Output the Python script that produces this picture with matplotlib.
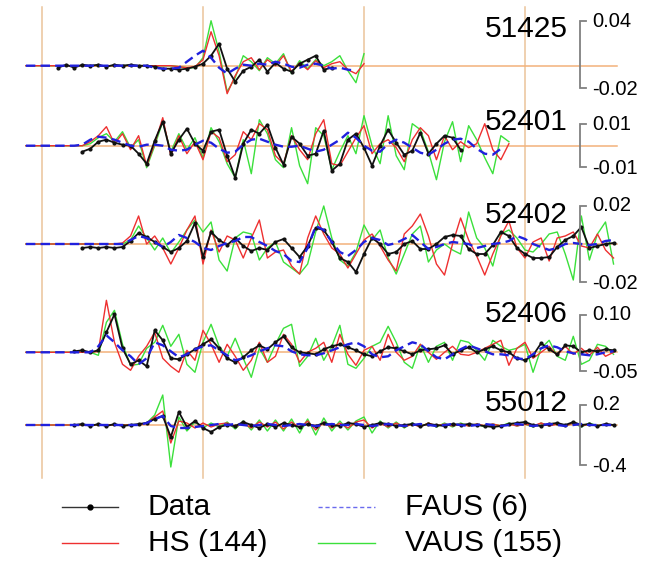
import numpy as np
import matplotlib
matplotlib.use("Agg")
import matplotlib.pyplot as plt

nan = np.nan

# ---------------------------------------------------------------------------
# Waveform data: raw counts sampled every DT seconds starting at T0.
# Multiply by the station sensitivity to get physical units.
# ---------------------------------------------------------------------------
T0 = -1.0
DT = 0.5

STATIONS = ["51425", "52401", "52402", "52406", "55012"]
SENSITIVITY = [9.0e-4, 4.69e-4, 5.22e-4, 2.68e-3, 1.0e-2]

SCALE_TOP = [0.04, 0.01, 0.02, 0.10, 0.2]
SCALE_BOTTOM = [-0.02, -0.01, -0.02, -0.05, -0.4]
SCALE_TOP_LABELS = ["0.04", "0.01", "0.02", "0.10", "0.2"]
SCALE_BOTTOM_LABELS = ["-0.02", "-0.01", "-0.02", "-0.05", "-0.4"]

TIME_GRID = [0, 10, 20, 30]
LEGEND_LABELS = ["Data", "HS (144)", "FAUS (6)", "VAUS (155)"]

# station 51425
DATA_51425 = [nan] * 4 + [-2, 1, -2, 1, 0, 1, -1, 1, 0, 1, 0, 0, -1, -3, -3, -4, -3, -1, 2, 10,
                          22, -3, -16, -5, -1, 6, -6, 3, -3, -6, 2, 6, 10, -4, -2]
HS_51425 = [0] * 19 + [-1, -2, -1, 6, 34, 10, -28, -10, 4, 8, -4, 6, 0, 10, -6, 3, -4, 5, -2, 2,
                       4, -4, -8, 2]
FAUS_51425 = [0] * 16 + [-2, -3, -3, -2, 4, 10, 15, 8, -2, -8, -3, 1, 0, 2, 1, 4, 2, -1, -2, 1,
                         2, 0, -3, -2, -4, -5]
VAUS_51425 = [0] * 19 + [-1, -2, -2, 8, 45, 14, -26, -12, 10, 4, -5, 8, 2, 12, -8, 5, -3, 6, 0, 4,
                         10, -5, -17, 12]

# station 52401
DATA_52401 = [nan] * 7 + [-6, -3, 4, 6, 3, 1, 0, -8, -18, 5, 24, -8, 6, 17, 2, -5, 14, 16, -10, -32,
                          2, 16, 12, 21, -2, -19, 9, 2, -10, -8, 15, -25, -18, 6, 12, -2, -20, 0, 16, 3,
                          -9, -5, 13, -8, 2, 10, 8, -4]
HS_52401 = [0] * 8 + [4, 10, 19, 2, 12, -4, 10, -20, 2, 28, -10, 10, -8, 4, -14, 14, 8, -16, -9, 14,
                      6, 22, 16, -10, -18, 10, -4, -14, 12, 26, -18, -20, -6, 8, 20, -8, 2, 6, -2, -16,
                      6, 18, 10, -14, 10, -4, 4, -2, 2, 22, -4, -14, 2]
FAUS_52401 = [0] * 7 + [1, 6, 9, 8, 6, 3, 0, -1, 1, 1, 0, -4, -5, -4, 1, 5, 3, -3, -7, -6,
                        1, 6, 7, 4, 1, -1, -1, 0, -3, -6, -4, 1, 6, 13, 8, 0, -5, -6, 2, 6,
                        3, -2, -7, -9, -4, 2, 6, 7, 4, -3, -8, -9, -3]
VAUS_52401 = [0] * 8 + [2, 8, 12, 4, 14, -2, 6, -22, 0, 24, -6, 12, -4, 8, -12, 18, 4, -18, -32, 6,
                        -28, 26, 12, -14, -22, 18, -20, -38, 18, 10, -24, -6, 10, -8, 30, 0, -18, 30, -10, -24,
                        22, 16, -6, -34, 4, 24, -16, 20, 6, -12, -28, 10, 4]

# station 52402
DATA_52402 = [nan] * 7 + [-4, -3, -4, -3, -4, -3, 3, 11, 7, 2, -3, -8, -4, 3, 21, -13, 12, 4, -1, 6,
                          -2, -7, -4, -6, 2, 5, -4, -13, -2, 16, 14, 2, -14, -18, -28, -10, 6, 0, -10, -8,
                          0, 3, -5, -5, 0, 7, 9, 8, -5, -10, -10, -1, 12, 8, -4, -10, -14, -14, -13, -3,
                          4, 8, 17, -4, -2, 0, 1]
HS_52402 = [0] * 12 + [1, 8, 28, 0, 8, -4, -20, -4, 14, 28, -20, 14, -8, 8, 4, -14, 6, 24, -14, -8,
                       -6, -22, -30, 6, 28, 10, -4, -10, -24, -10, 4, 10, -2, -16, -27, 10, 18, 30, 8, -20,
                       -31, 0, 26, 4, -12, -31, -10, 8, 23, -4, -14, 2, 6, -17, 6, 8, 12, -2, -4, 10,
                       -6, -14]
FAUS_52402 = [0] * 13 + [4, 8, 6, 2, -3, 2, 9, 6, 2, -4, -6, -2, 1, 3, 7, 7, 2, -2, -7, -10,
                         -17, -18, -4, 18, 14, 2, -8, -12, -6, 2, 6, 4, -1, 1, 5, 9, 2, -5, -3, 0,
                         2, 1, 0, -4, -2, 0, 1, 3, 8, 5, 0, -3, -6, -4, 0, 1, 0, -1, 0, 3, 4]
VAUS_52402 = [0] * 13 + [4, 18, 6, -6, 6, -9, 2, 14, 24, 12, 22, -16, -27, 6, 12, 10, -16, -4, 2, -18,
                         -24, -30, -20, 12, 38, 6, -16, -22, -8, 19, 4, 14, -14, -30, -10, 10, 18, -18, -6, 0,
                         -6, -10, 32, 6, -4, -22, 10, 14, 6, -6, -8, 0, 10, 12, -10, -36, 28, -16, 10, 22,
                         -20]

# station 52406
DATA_52406 = [nan] * 6 + [1, 2, 0, 2, 20, 38, 4, -12, -8, -14, 22, 12, -6, -7, -2, 3, 8, 13, 4, -6,
                          -10, -5, 2, 7, 3, 10, 16, 5, 0, -1, -2, 3, 6, 8, 5, 2, -2, -4, 1, 5,
                          4, 1, -2, 2, 3, 4, 7, -2, 2, 5, 0, 3, 6, 2, 0, -6, -8, -3, 9, 3,
                          -2, 7, 6, 0, 2, 1, 3, 2]
HS_52406 = [0] * 9 + [1, 52, 10, -12, -18, -4, 6, 20, -6, -14, -20, 2, -8, 22, 8, -10, 8, -4, -18, -8,
                      10, -10, -4, 18, 8, -10, 0, 4, 10, -10, 18, -2, -13, 2, 6, -8, 18, 0, -8, -4,
                      8, 0, -7, 0, 6, -2, -3, 0, 4, 8, 12, -13, 4, 10, -6, 0, 6, -3, 6, -2,
                      4, -3, 5, -4, 0]
FAUS_52406 = [0] * 9 + [6, 17, 10, 2, -4, -12, -6, 10, 7, 1, -5, -2, 3, 6, 7, 2, -3, -8, -6, -3,
                        1, 4, 7, 6, 1, -2, -3, -3, -1, 2, 5, 8, 10, 6, -2, -5, -4, 2, 6, 10,
                        8, 1, -5, -7, -2, 3, 7, 4, 1, -2, -2, -3, -6, -7, -2, 4, 7, 5, 1, -1,
                        -2, -3, -2, 0, 1]
VAUS_52406 = [0] * 9 + [-3, 30, 42, 8, -13, -12, 4, 10, 27, 6, 18, -12, -20, 10, 28, 6, -4, 14, -6, -25,
                        4, -10, 8, 24, 28, -14, -4, 14, -8, 6, 27, -12, -16, -6, 6, 10, 26, 10, -10, -16,
                        8, -10, 6, 10, -8, 12, 10, 2, -8, 12, 6, 2, 4, 8, -20, 4, 12, -4, -8, 16,
                        -12, -8, 8, 6, -2]

# station 55012
DATA_55012 = [nan] * 6 + [0, 1, -1, 1, -1, 1, -1, 0, 1, 2, 6, 9, -12, 13, -2, 4, -3, -7, -2, 0,
                          -1, 3, 0, -3, 1, -2, 2, 0, -2, 1, -1, 2, 0, -1, 2, 1, -2, 0, 2, 1,
                          -1, 0, 1, -1, 1, 0, -1, 1, 0, 1, 0, -1, -2, -1, 1, 2, 3, 0, -1, 1,
                          2, 0, 3, 0, 1, -1, 1, 0]
HS_55012 = [0] * 15 + [2, 8, 14, -18, 4, 2, -3, 2, -2, 1, 2, -2, 2, -3, 3, -2, 3, -4, 3, -3,
                       4, -5, 3, -3, 2, -3, 3, 5, -3, 2, -2, 2, -2, 1, -2, 2, -1, 1, -1, 1,
                       -1, 1, -1, 1, -1, 1, -1, 1, -1, 2, -1, 1, -1, 2, -1, 1, -1, 1, 0]
FAUS_55012 = [0] * 15 + [2, 6, 9, -1, -3, -3, -2, -1, 0, 1, 0, 1, 0, -1, 0, 1, 0, -1, 0, 1,
                         0, -1, 0, 1, 0, 0, 1, 0, -1, 0, 1, 0, -1, 0, 1, 0, -1, 0, 1, 0,
                         -1, 0, 1, 0, -1, 0, 1, 0, -1, 0, 1, 0, -1, 0, 1, 0, 0, 0, 0]
VAUS_55012 = [0] * 15 + [2, 10, 30, -42, 8, -6, 3, -3, 2, -2, 3, -4, 4, -5, 5, -6, 5, -6, 6, -8,
                         6, -10, 7, -6, 4, -5, 4, 8, -8, 4, -3, 3, -3, 2, -2, 2, -2, 2, -2, 2,
                         -1, 1, -2, 1, -1, 2, -1, 1, -2, 2, -1, 2, -1, 2, -2, 2, -1, 1, 0]

DATA = [DATA_51425, DATA_52401, DATA_52402, DATA_52406, DATA_55012]
HS = [HS_51425, HS_52401, HS_52402, HS_52406, HS_55012]
FAUS = [FAUS_51425, FAUS_52401, FAUS_52402, FAUS_52406, FAUS_55012]
VAUS = [VAUS_51425, VAUS_52401, VAUS_52402, VAUS_52406, VAUS_55012]

# ---------------------------------------------------------------------------
# Layout (pixel geometry of the figure)
# ---------------------------------------------------------------------------
W, H, DPI = 656, 563, 100
X_ORIGIN = 42.0          # pixel column of t = 0
PX_PER_SEC = 16.1
ROW_BASE = [65.7, 145.7, 244.0, 352.3, 425.0]   # baseline row of each station
ROW_GAIN = [1110, 2133, 1917, 373, 100]          # pixels per physical unit
NAME_Y = [37, 130, 223, 322, 411]
NAME_X = 568
BAR_X = 580
GRID_TOP, GRID_BOTTOM = 7, 478
TRACE_X0, TRACE_X1 = 28, 617

C_VGRID = "#EBC39A"
C_HGRID = "#F3B27A"
C_DATA = "#111111"
C_HS = "#EE3030"
C_FAUS = "#2020DD"
C_VAUS = "#3BE03B"
C_BAR = "#808080"
FONT = "Liberation Sans"


def to_t(px):
    return (px - X_ORIGIN) / PX_PER_SEC


fig = plt.figure(figsize=(W / DPI, H / DPI), dpi=DPI)
ax = fig.add_axes([0, 0, 1, 1])
ax.set_xlim(to_t(0), to_t(W))
ax.set_ylim(H, 0)
ax.axis("off")

# overlay in pixel units for labels, scale bars and legend
ov = fig.add_axes([0, 0, 1, 1])
ov.set_xlim(0, W)
ov.set_ylim(H, 0)
ov.axis("off")
ov.patch.set_alpha(0)

# grid
for tg in TIME_GRID:
    ax.plot([tg, tg], [GRID_TOP, GRID_BOTTOM], color=C_VGRID, lw=1.1, zorder=1)
for base in ROW_BASE:
    ax.plot([to_t(TRACE_X0), to_t(TRACE_X1)], [base, base], color=C_HGRID, lw=1.1, zorder=1)

# traces
for i, name in enumerate(STATIONS):
    base, gain, sens = ROW_BASE[i], ROW_GAIN[i], SENSITIVITY[i]

    def ypix(counts):
        v = np.asarray(counts, dtype=float) * sens
        return base - v * gain

    def tvec(counts):
        return T0 + DT * np.arange(len(counts))

    ax.plot(tvec(VAUS[i]), ypix(VAUS[i]), color=C_VAUS, lw=1.0, zorder=2)
    ax.plot(tvec(HS[i]), ypix(HS[i]), color=C_HS, lw=1.0, zorder=3)
    ax.plot(tvec(DATA[i]), ypix(DATA[i]), color=C_DATA, lw=1.3, marker="o",
            ms=2.0, zorder=4)
    ax.plot(tvec(FAUS[i]), ypix(FAUS[i]), color=C_FAUS, lw=1.7,
            dashes=(4, 2.2), zorder=5)

    # station name
    ov.text(NAME_X, NAME_Y[i], name, ha="right", va="baseline",
            fontsize=21.5, family=FONT, color="black", zorder=6)

    # amplitude scale bar
    y_top = base - SCALE_TOP[i] * gain
    y_bot = base - SCALE_BOTTOM[i] * gain
    ov.plot([BAR_X + 6, BAR_X, BAR_X, BAR_X + 6], [y_top, y_top, y_bot, y_bot],
            color=C_BAR, lw=1.3, solid_joinstyle="miter", zorder=6)
    ov.text(BAR_X + 12, y_top, SCALE_TOP_LABELS[i], ha="left", va="center",
            fontsize=14.5, family=FONT, color="black")
    ov.text(BAR_X + 12, y_bot + 1.5, SCALE_BOTTOM_LABELS[i], ha="left", va="center",
            fontsize=14.5, family=FONT, color="black")

# legend
LEG_ROWS = [507, 543]
LEG_COLS = [(62, 118, 148), (318, 375, 405)]
legend_styles = [
    dict(color="#333333", lw=1.0),
    dict(color=C_HS, lw=1.0),
    dict(color="#6A6AEE", lw=1.0, dashes=(3, 2)),
    dict(color=C_VAUS, lw=1.0),
]
for k, label in enumerate(LEGEND_LABELS):
    col, row = divmod(k, 2)
    x0, x1, xt = LEG_COLS[col]
    y = LEG_ROWS[row]
    ov.plot([x0, x1], [y, y], **legend_styles[k])
    if k == 0:
        ov.plot([(x0 + x1) / 2], [y], marker="o", ms=3.5, color="black")
    ov.text(xt, y, label, ha="left", va="center", fontsize=21.5,
            family=FONT, color="black")

fig.savefig("out.png", dpi=DPI)
